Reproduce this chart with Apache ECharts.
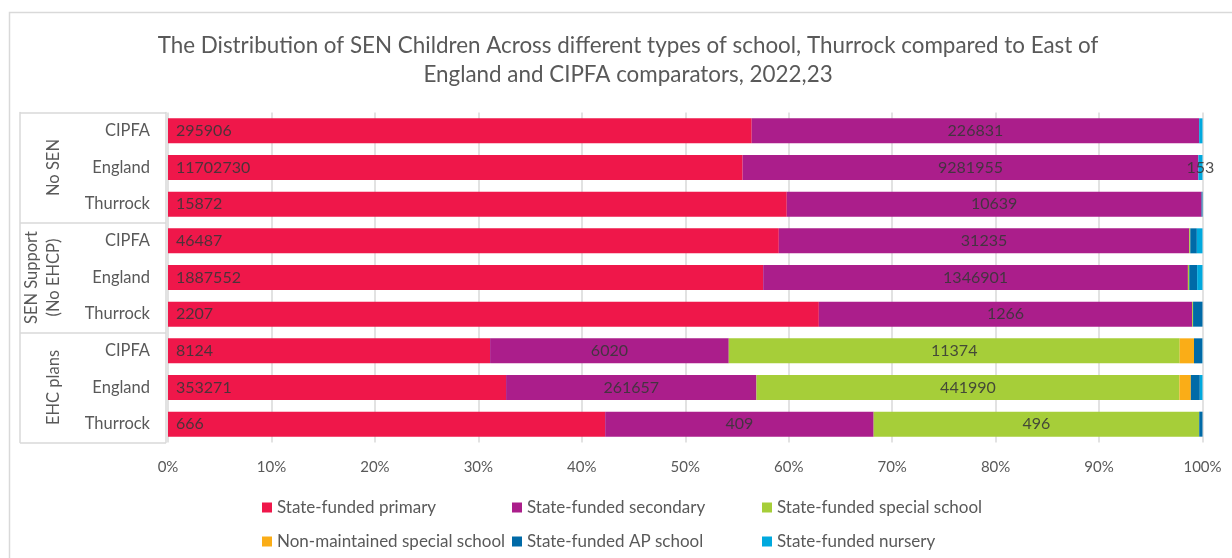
<!DOCTYPE html>
<html>
<head>
<meta charset="utf-8">
<script src="https://cdn.jsdelivr.net/npm/echarts@6/dist/echarts.min.js"></script>
<style>html,body{margin:0;padding:0;background:#fff;}#c{width:1232px;height:558px;}</style>
</head>
<body>
<div id="c"></div>
<script>
// Rows (top to bottom)
const areas = ['CIPFA','England','Thurrock','CIPFA','England','Thurrock','CIPFA','England','Thurrock'];
const groups = ['No SEN','SEN Support\n(No EHCP)','EHC plans'];
// counts per school type (small segments)
const primary       = [295906, 11702730, 15872, 46487, 1887552, 2207, 8124, 353271, 666];
const secondary     = [226831, 9281955, 10639, 31235, 1346901, 1266, 6020, 261657, 409];
const special       = [0, 0, 0, 80, 4300, 3, 11374, 441990, 496];
const nonMaintained = [0, 0, 0, 0, 0, 0, 360, 11900, 0];
const apSchool      = [0, 0, 25, 500, 25000, 32, 210, 9400, 5];
const nursery       = [1700, 84000, 0, 430, 17000, 0, 5, 2800, 0];
// which segments carry a data label, and the shown text override
const specialLabelRows = [6, 7, 8];
const nurseryLabelText = ['', '153', '', '', '', '', '', '', ''];
const xTicks = [0,10,20,30,40,50,60,70,80,90,100];

const names = ['State-funded primary','State-funded secondary','State-funded special school','Non-maintained special school','State-funded AP school','State-funded nursery'];
const colors = ['#EF174A','#AB1E8B','#A6CE39','#FAAD17','#006AA7','#00A9DE'];
const all = [primary, secondary, special, nonMaintained, apSchool, nursery];
const totals = areas.map((_, i) => all.reduce((s, a) => s + a[i], 0));

const FONT = 'Lato';
const labelBase = {color: 'rgba(55,55,55,0.88)', fontSize: 16, fontFamily: FONT};

function mk(idx) {
  const arr = all[idx];
  const s = {
    name: names[idx], type: 'bar', stack: 't', barWidth: 25,
    itemStyle: {color: colors[idx]},
    data: arr.map((v, i) => v / totals[i] * 100),
    label: {show: false}
  };
  if (idx === 0) {
    s.label = Object.assign({show: true, position: 'insideLeft', distance: 8, formatter: p => String(primary[p.dataIndex])}, labelBase);
  } else if (idx === 1) {
    s.label = Object.assign({show: true, position: 'inside', formatter: p => String(secondary[p.dataIndex])}, labelBase);
  } else if (idx === 2) {
    s.label = Object.assign({show: true, position: 'inside', formatter: p => specialLabelRows.includes(p.dataIndex) ? String(special[p.dataIndex]) : ''}, labelBase);
  } else if (idx === 5) {
    s.label = Object.assign({show: true, position: 'inside', formatter: p => nurseryLabelText[p.dataIndex]}, labelBase);
  }
  return s;
}

const chart = echarts.init(document.getElementById('c'), null, {renderer: 'canvas'});
const legendText = {color: '#595959', fontSize: 17, fontFamily: FONT};
const legCols = [262, 512, 762];
const legRows = [499, 533];
const legendOrder = [0, 1, 2, 3, 4, 5];
const legends = legendOrder.map((n, k) => ({
  orient: 'horizontal', left: legCols[k % 3], top: legRows[Math.floor(k / 3)],
  itemWidth: 10, itemHeight: 10, icon: 'rect', data: [names[n]],
  textStyle: legendText, selectedMode: false, padding: 0
}));
chart.setOption({
  animation: false,
  title: {
    text: 'The Distribution of SEN Children Across different types of school, Thurrock compared to East of\nEngland and CIPFA comparators, 2022,23',
    left: 623, top: 26, textAlign: 'center',
    textStyle: {color: '#595959', fontSize: 22.4, fontWeight: 'normal', fontFamily: FONT, lineHeight: 29}
  },
  graphic: [{type: 'rect', shape: {x: 9.5, y: 12.5, width: 1400, height: 700}, style: {fill: 'none', stroke: '#d9d9d9', lineWidth: 1.5}, silent: true}],
  legend: legends,
  grid: {left: 168, right: 29.5, top: 112.5, bottom: 115.5},
  xAxis: {
    type: 'value', min: 0, max: 100, interval: 10,
    axisLine: {show: false}, axisTick: {show: false},
    splitLine: {lineStyle: {color: '#d9d9d9', width: 1.5}},
    axisLabel: {formatter: v => xTicks.includes(v) ? v + '%' : '', color: '#595959', fontSize: 15, fontFamily: FONT, margin: 17}
  },
  yAxis: [
    {type: 'category', data: areas, inverse: true,
     axisLine: {show: false}, axisTick: {show: false},
     axisLabel: {color: '#595959', fontSize: 16.5, fontFamily: FONT, margin: 18, interval: 0}},
    {type: 'category', data: groups, inverse: true, position: 'left', offset: 2,
     axisLine: {show: true, lineStyle: {color: '#d9d9d9', width: 1.5}},
     axisTick: {show: true, interval: 0, length: 146, lineStyle: {color: '#d9d9d9', width: 1.5}},
     axisLabel: {rotate: 90, interval: 0, hideOverlap: false, margin: 101, color: '#595959', fontSize: 16.5, fontFamily: FONT, lineHeight: 22}},
    {type: 'category', data: groups, inverse: true, position: 'left', offset: 148,
     axisLine: {show: true, lineStyle: {color: '#d9d9d9', width: 1.5}},
     axisTick: {show: false}, axisLabel: {show: false}}
  ],
  series: [0,1,2,3,4,5].map(mk)
});
</script>
</body>
</html>
